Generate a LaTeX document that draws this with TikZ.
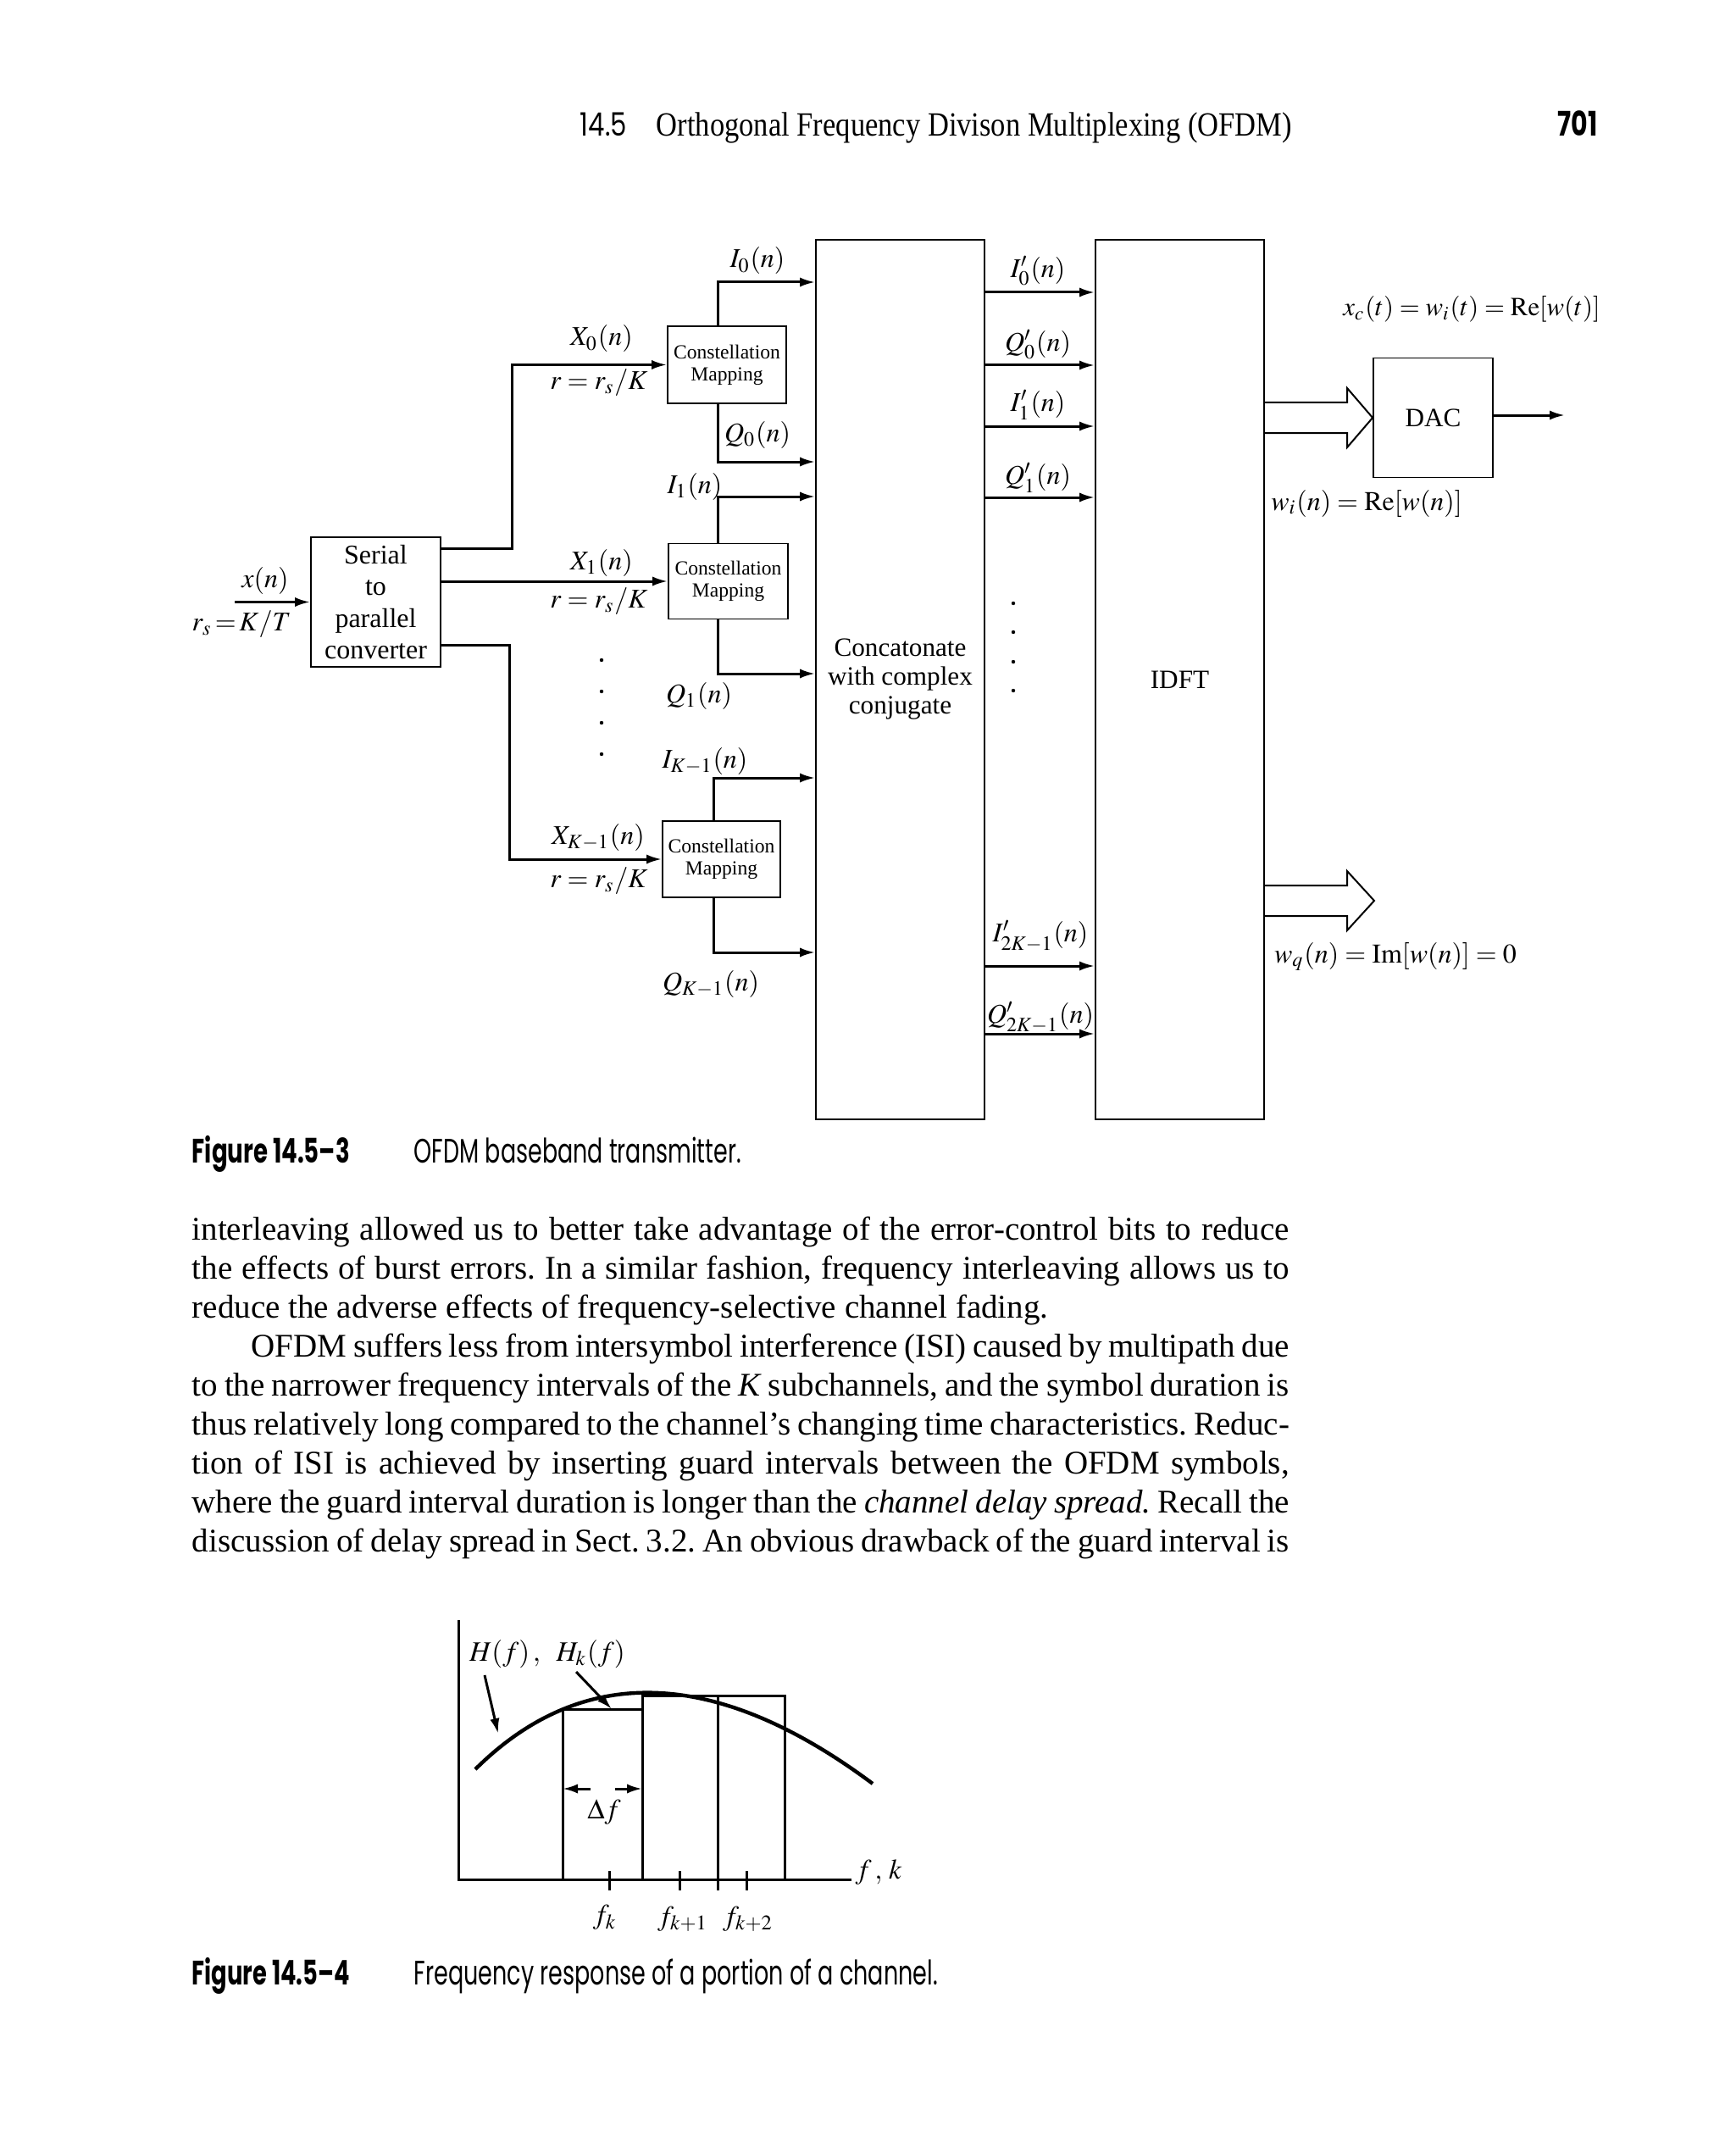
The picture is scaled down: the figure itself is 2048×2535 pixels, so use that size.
\documentclass[tikz,border=0pt]{standalone}
\usepackage{mathptmx}
\usepackage{graphicx}
\usepackage{fontspec}
\setmainfont{Liberation Serif}
\newfontfamily\futura{Poppins}
\usetikzlibrary{arrows.meta}
\tikzset{
  box/.style={draw, line width=0.45pt, inner sep=0pt, align=center},
  arr/.style={line width=0.75pt, -{Latex[length=4.5pt,width=2.8pt]}},
  lab/.style={inner sep=0pt, font=\fontsize{8}{9.5}\selectfont},
  glab/.style={inner sep=0pt, font=\fontsize{8.3}{9.5}\selectfont},
  txt/.style={inner sep=0pt, anchor=base west, font=\fontsize{9.75}{11.5}\selectfont\frenchspacing},
  gl/.style={line width=0.75pt},
  hollow/.style={line width=0.5pt, line join=miter},
}
\begin{document}
\begin{tikzpicture}[x=0.25pt, y=-0.25pt]
\fill[white] (0,0) rectangle (2048,2535);
\useasboundingbox (0,0) rectangle (2048,2535);

% ---------- header ----------
\node[anchor=base west, inner sep=0pt] (sec) at (684,161) {\resizebox{13.75pt}{\height}{\fontsize{9.5}{11}\futura 14.5}};
\node[anchor=base west, inner sep=0pt] (title) at (774,161) {\resizebox{187.5pt}{\height}{\fontsize{10}{12}\selectfont Orthogonal Frequency Divison Multiplexing (OFDM)}};
\node[anchor=base west, inner sep=0pt] (pg) at (1838,161) {\resizebox{11.75pt}{\height}{\fontsize{10}{12}\futura\bfseries 701}};

% ---------- block diagram ----------
\node[box, minimum width=38.25pt, minimum height=38.25pt, font=\fontsize{8}{9.3}\selectfont] (serial) at (443.5,710.5) {Serial\\to\\parallel\\converter};
\node[box, minimum width=35pt, minimum height=22.75pt, font=\fontsize{5.9}{6.5}\selectfont] (cm0) at (858,430.5) {Constellation\\Mapping};
\node[box, minimum width=35.25pt, minimum height=22.25pt, font=\fontsize{5.9}{6.5}\selectfont] (cm1) at (859.5,686) {Constellation\\Mapping};
\node[box, minimum width=34.75pt, minimum height=22.5pt, font=\fontsize{5.9}{6.5}\selectfont] (cm2) at (851.5,1014) {Constellation\\Mapping};
\node[box, minimum width=49.75pt, minimum height=259.5pt, font=\fontsize{7.8}{8.5}\selectfont] (concat) at (1062.5,802) {Concatonate\\with complex\\conjugate};
\node[box, minimum width=49.75pt, minimum height=259.5pt, font=\fontsize{7.8}{8.5}\selectfont] (idft) at (1392.5,802) {IDFT};
\node[box, minimum width=35.25pt, minimum height=35.25pt, font=\fontsize{7.8}{8.5}\selectfont] (dac) at (1691.5,493) {DAC};

\coordinate (xin) at (277,710.5);
\draw[arr] (xin) -- (serial.west);
\node[lab] (xn) at (313,685) {$x(n)$};
\node[lab] (rs) at (285,737) {$r_s\!=\!K/T$};

\draw[arr] (serial.east |- 0,647) -- (604,647) |- (cm0.west);
\draw[arr] (serial.east |- cm1.west) -- (cm1.west);
\draw[arr] (serial.east |- 0,761) -- (601,761) |- (cm2.west);

\node[lab] (x0) at (710,400) {$X_0(n)$};
\node[lab] (r0) at (707,452) {$r = r_s/K$};
\node[lab] (x1) at (710,664) {$X_1(n)$};
\node[lab] (r1) at (707,710) {$r = r_s/K$};
\node[lab] (xk) at (706,988) {$X_{K-1}(n)$};
\node[lab] (rk) at (707,1040) {$r = r_s/K$};

\foreach \yy in {779,816,853,890} \fill (710,\yy) circle[radius=0.55pt];

\draw[arr] (cm0.north -| 847,0) |- (concat.west |- 0,333);
\draw[arr] (cm0.south -| 847,0) |- (concat.west |- 0,545);
\draw[arr] (cm1.north -| 847,0) |- (concat.west |- 0,586);
\draw[arr] (cm1.south -| 847,0) |- (concat.west |- 0,795);
\draw[arr] (cm2.north -| 842,0) |- (concat.west |- 0,918);
\draw[arr] (cm2.south -| 842,0) |- (concat.west |- 0,1124);

\node[lab] (i0) at (894,308) {$I_0(n)$};
\node[lab] (q0) at (894,513) {$Q_0(n)$};
\node[lab] (i1) at (820,574) {$I_1(n)$};
\node[lab] (q1) at (825,821) {$Q_1(n)$};
\node[lab] (ik) at (832,898) {$I_{K-1}(n)$};
\node[lab] (qk) at (839,1161) {$Q_{K-1}(n)$};

\foreach \yy in {345,431,503,587,1140,1220}
  \draw[arr] (concat.east |- 0,\yy) -- (idft.west |- 0,\yy);
\node[lab] (pi0) at (1225,320) {$I'_0(n)$};
\node[lab] (pq0) at (1225,407) {$Q'_0(n)$};
\node[lab] (pi1) at (1225,478) {$I'_1(n)$};
\node[lab] (pq1) at (1225,564) {$Q'_1(n)$};
\node[lab] (pik) at (1228,1105) {$I'_{2K-1}(n)$};
\node[lab] (pqk) at (1228,1201) {$Q'_{2K-1}(n)$};
\foreach \yy in {712,746,781,815} \fill (1196,\yy) circle[radius=0.55pt];

% hollow arrows
\draw[hollow] (idft.east |- 0,475) -- (1590,475) -- (1590,458) -- (dac.west) -- (1590,528) -- (1590,511) -- (idft.east |- 0,511);
\coordinate (wqtip) at (1622,1063);
\draw[hollow] (idft.east |- 0,1045) -- (1590,1045) -- (1590,1028) -- (wqtip) -- (1590,1098) -- (1590,1081) -- (idft.east |- 0,1081);

\coordinate (out) at (1847,490);
\draw[arr] (dac.east |- out) -- (out);
\node[lab, font=\fontsize{7.7}{9}\selectfont] (xc) at (1737,365) {$x_c(t) = w_i(t) = \mathrm{Re}[w(t)]$};
\node[lab] (wi) at (1613,594) {$w_i(n) = \mathrm{Re}[w(n)]$};
\node[lab] (wq) at (1647,1129) {$w_q(n) = \mathrm{Im}[w(n)] = 0$};

% ---------- caption 1 ----------
\node[anchor=base west, inner sep=0pt] (cap1a) at (226,1372) {\resizebox{46.5pt}{\height}{\fontsize{10}{12}\futura\bfseries Figure 14.5–3}};
\node[anchor=base west, inner sep=0pt] (cap1b) at (488,1372) {\resizebox{96.5pt}{\height}{\fontsize{10}{12}\futura OFDM baseband transmitter.}};

% ---------- body text ----------
\node[txt] (l1) at (226,1463) {\makebox[323.75pt][s]{interleaving allowed us to better take advantage of the error-control bits to reduce}};
\node[txt] (l2) at (226,1509) {\makebox[323.75pt][s]{the effects of burst errors. In a similar fashion, frequency interleaving allows us to}};
\node[txt] (l3) at (226,1555) {reduce the adverse effects of frequency-selective channel fading.};
\node[txt] (l4) at (226,1601) {\makebox[323.75pt][s]{\hspace*{17.5pt}OFDM suffers less from intersymbol interference (ISI) caused by multipath due}};
\node[txt] (l5) at (226,1647) {\makebox[323.75pt][s]{to the narrower frequency intervals of the \textit{K} subchannels, and the symbol duration is}};
\node[txt] (l6) at (226,1693) {\makebox[323.75pt][s]{thus relatively long compared to the channel’s changing time characteristics. Reduc-}};
\node[txt] (l7) at (226,1739) {\makebox[323.75pt][s]{tion of ISI is achieved by inserting guard intervals between the OFDM symbols,}};
\node[txt] (l8) at (226,1785) {\makebox[323.75pt][s]{where the guard interval duration is longer than the \textit{channel delay spread.} Recall the}};
\node[txt] (l9) at (226,1831) {\makebox[323.75pt][s]{discussion of delay spread in Sect. 3.2. An obvious drawback of the guard interval is}};

% ---------- graph ----------
\coordinate (ytop) at (541,1912);
\coordinate (orig) at (541,2218);
\coordinate (xend) at (1005,2218);
\draw[gl] (ytop) -- (orig) -- (xend);
\draw[gl] (664,2218) -- (664,2017) -- (758,2017);
\draw[gl] (758,2218) -- (758,2001) -- (847,2001);
\draw[gl] (847,2231) -- (847,2001) -- (926,2001) -- (926,2218);
\foreach \xx in {719,802,881} \draw[gl] (\xx,2208) -- (\xx,2231);
\draw[line width=1.1pt] (561,2088) .. controls (690,1960) and (849,1970) .. (1030,2105);
\draw[arr] (572,1977) -- (588,2046);
\draw[arr] (680,1973) -- (722,2017);
\draw[arr] (697,2111) -- (664,2111);
\draw[arr] (726,2111) -- (758,2111);
\node[glab] (hf) at (646,1952) {$H(f)\,,\;\; H_k(f)$};
\node[glab] (df) at (713,2139) {$\Delta f$};
\node[glab] (fk) at (714,2263) {$f_k$};
\node[glab] (fk1) at (806,2265) {$f_{k+1}$};
\node[glab] (fk2) at (883,2265) {$f_{k+2}$};
\node[glab] (fkax) at (1037,2210) {$f\,,\, k$};

% ---------- caption 2 ----------
\node[anchor=base west, inner sep=0pt] (cap2a) at (226,2342) {\resizebox{46.5pt}{\height}{\fontsize{10}{12}\futura\bfseries Figure 14.5–4}};
\node[anchor=base west, inner sep=0pt] (cap2b) at (488,2342) {\resizebox{154.5pt}{\height}{\fontsize{10}{12}\futura Frequency response of a portion of a channel.}};
\end{tikzpicture}
\end{document}
